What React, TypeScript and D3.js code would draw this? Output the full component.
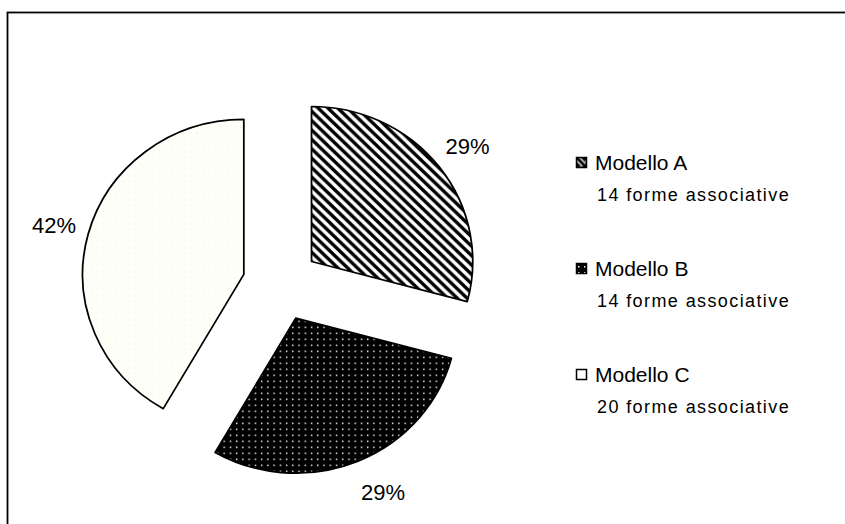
import React from 'react';
import * as d3 from 'd3';

// Pie data
const models = ['Modello A', 'Modello B', 'Modello C'];
const counts = [14, 14, 20];
const captions = ['14 forme associative', '14 forme associative', '20 forme associative'];
const percentLabels = ['29%', '29%', '42%'];
const fills = ['url(#hatch)', 'url(#dots)', 'url(#paleDots)'];

const App = () => {
  const width = 845;
  const height = 524;
  const cx = 281;
  const cy = 284;
  const radius = 155;
  const explode = 37;
  const stretch = 1.04; // the original pie is a touch wider than tall

  const pie = d3.pie<number>().sort(null).startAngle(0).endAngle(2 * Math.PI);
  const arcs = pie(counts);
  const arc = d3.arc<d3.PieArcDatum<number>>().innerRadius(0).outerRadius(radius);
  const labelArc = d3.arc<d3.PieArcDatum<number>>().innerRadius(226).outerRadius(226);

  const legendY = d3.scalePoint<string>().domain(models).range([170, 382]);

  return (
    <svg
      width={width}
      height={height}
      style={{ position: 'absolute', left: 0, top: 0, background: '#fff' }}
      fontFamily="Arial, 'Liberation Sans', sans-serif"
    >
      <defs>
        <pattern id="hatch" width="9.4" height="9.4" patternUnits="userSpaceOnUse">
          <rect width="9.4" height="9.4" fill="#fff" />
          <path d="M-3,-3 L12.4,12.4 M-3,6.4 L3,12.4 M6.4,-3 L12.4,3" stroke="#000" strokeWidth="3.3" />
        </pattern>
        <pattern id="dots" width="6" height="6" patternUnits="userSpaceOnUse">
          <rect width="6" height="6" fill="#000" />
          <rect x="2.5" y="2.5" width="1.4" height="1.4" fill="#fff" />
        </pattern>
        <pattern id="paleDots" width="6" height="6" patternUnits="userSpaceOnUse">
          <rect width="6" height="6" fill="#fffffa" />
          <rect x="2.5" y="2.5" width="1.2" height="1.2" fill="#f6f6d2" />
        </pattern>
        <pattern id="swatchHatch" width="9" height="9" patternUnits="userSpaceOnUse" x="576.5" y="157.5">
          <rect width="9" height="9" fill="#fff" />
          <path d="M-3,-3 L12,12" stroke="#000" strokeWidth="3" />
          <path d="M0,9 L0,4 L5,9 Z M9,0 L4,0 L9,5 Z" fill="#000" />
        </pattern>
        <pattern id="swatchDots" width="6" height="6" patternUnits="userSpaceOnUse" x="576" y="264">
          <rect width="6" height="6" fill="#000" />
          <rect x="2" y="2" width="1.5" height="1.5" fill="#fff" />
        </pattern>
      </defs>

      {/* chart frame */}
      <rect x={7.5} y={12.5} width={900} height={600} fill="none" stroke="#000" strokeWidth={1.8} />

      {/* exploded slices */}
      <g transform={`translate(${cx},${cy}) scale(${stretch},1)`}>
        {arcs.map((a, i) => {
          const mid = (a.startAngle + a.endAngle) / 2;
          const ox = explode * Math.sin(mid);
          const oy = -explode * Math.cos(mid);
          return (
            <path
              key={models[i]}
              transform={`translate(${ox},${oy})`}
              d={arc(a) ?? ''}
              fill={fills[i]}
              stroke="#000"
              strokeWidth={1.7}
              strokeLinejoin="round"
            />
          );
        })}
      </g>

      {/* percentage labels */}
      {arcs.map((a, i) => {
        const [lx, ly] = labelArc.centroid(a);
        return (
          <text
            key={models[i]}
            x={cx + lx * stretch + (i === 1 ? 12 : 0)}
            y={cy + ly}
            fontSize={22}
            textAnchor="middle"
            dominantBaseline="central"
          >
            {percentLabels[i]}
          </text>
        );
      })}

      {/* legend */}
      {models.map((m, i) => {
        const y = legendY(m) ?? 0;
        return (
          <g key={m}>
            <rect
              x={576.5}
              y={y - 12.5}
              width={10}
              height={10}
              fill={i === 1 ? 'url(#swatchDots)' : i === 0 ? 'url(#swatchHatch)' : '#fff'}
              stroke="#000"
              strokeWidth={1.5}
            />
            <text x={595} y={y} fontSize={21}>
              {m}
            </text>
            <text x={597} y={y + 31} fontSize={18} letterSpacing={1.4}>
              {captions[i]}
            </text>
          </g>
        );
      })}
    </svg>
  );
};

export default App;
